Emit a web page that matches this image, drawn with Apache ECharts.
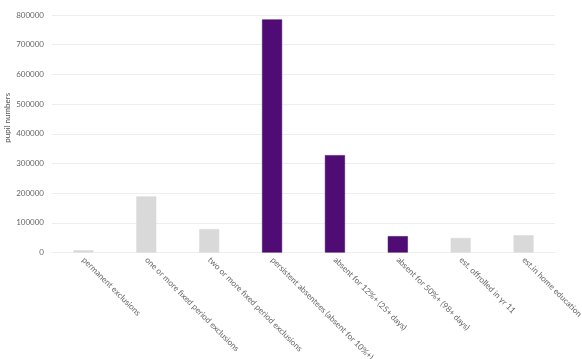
<!DOCTYPE html>
<html><head><meta charset="utf-8">
<script src="https://cdn.jsdelivr.net/npm/echarts@6/dist/echarts.min.js"></script>
<style>html,body{margin:0;padding:0;background:#fff}#c{width:582px;height:359px}</style>
</head><body><div id="c"></div>
<script>
const categories = [
  "permanent exclusions",
  "one or more fixed period exclusions",
  "two or more fixed period exclusions",
  "persistent absentees (absent for 10%+)",
  "absent for 12%+ (25+ days)",
  "absent for 50%+ (98+ days)",
  "est. offrolled in yr 11",
  "est.in home education"
];
const values = [7700, 189000, 79000, 785000, 328000, 55000, 49000, 58000];
const isAbsence = [false, false, false, true, true, true, false, false];
const yTicks = [0, 100000, 200000, 300000, 400000, 500000, 600000, 700000, 800000];

const purple = '#4f0c74', grey = '#d9d9d9';
const chart = echarts.init(document.getElementById('c'));
chart.setOption({
  animation: false,
  grid: {left: 52, right: 27, top: 15, bottom: 106.5, containLabel: false, outerBoundsMode: 'none'},
  xAxis: {
    type: 'category', data: categories,
    axisLine: {show: true, lineStyle: {color: '#eeeeee'}},
    axisTick: {show: false},
    axisLabel: {rotate: -45, interval: 0, fontSize: 8.3, color: '#666', fontFamily: 'Lato', margin: 6}
  },
  yAxis: {
    type: 'value', min: yTicks[0], max: yTicks[yTicks.length-1], interval: 100000,
    name: 'pupil numbers', nameLocation: 'middle', nameGap: 41, nameMoveOverlap: false,
    nameTextStyle: {fontSize: 8, color: '#555', fontFamily: 'Lato', padding: [0, 0, 0, 32]},
    axisLine: {show: false}, axisTick: {show: false},
    axisLabel: {fontSize: 8, color: '#666', fontFamily: 'Lato', margin: 8, formatter: v => String(v)},
    splitLine: {lineStyle: {color: '#eeeeee'}}
  },
  series: [{
    type: 'bar', barWidth: 20,
    data: values.map((v, i) => ({
      value: v,
      itemStyle: {color: isAbsence[i] ? purple : grey, borderColor: isAbsence[i] ? '#3d075c' : grey, borderWidth: 0.5}
    }))
  }]
});
</script></body></html>
